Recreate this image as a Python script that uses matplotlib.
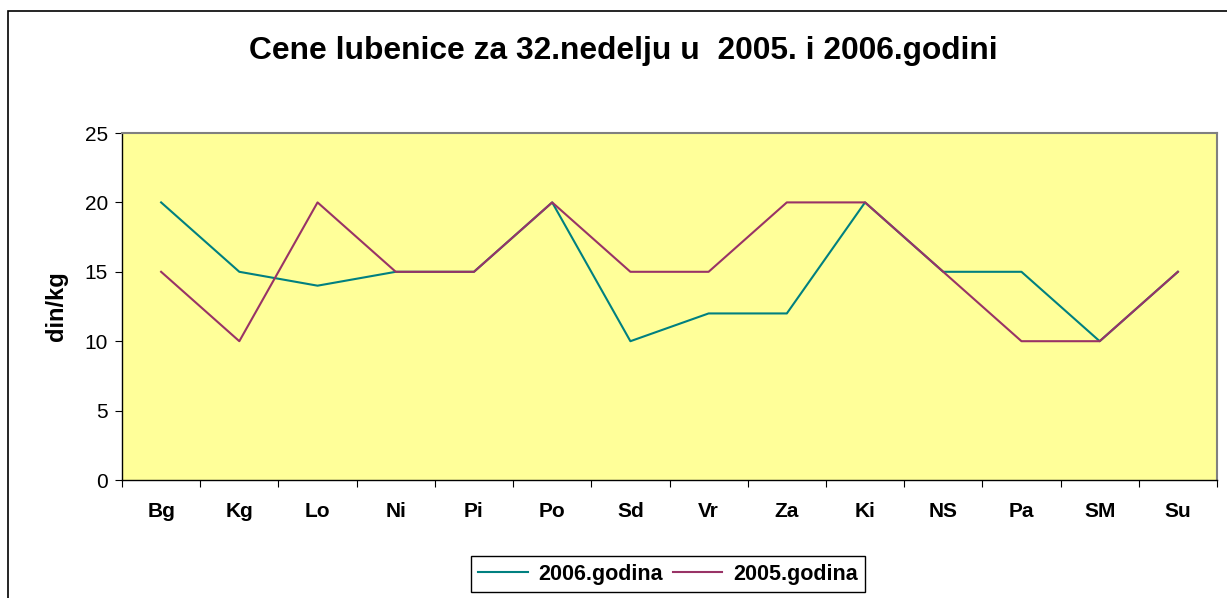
import matplotlib.pyplot as plt
from matplotlib.patches import Rectangle
import numpy as np

plt.rcParams['font.family'] = ['Liberation Sans', 'DejaVu Sans']

# data
cities = ['Bg', 'Kg', 'Lo', 'Ni', 'Pi', 'Po', 'Sd', 'Vr', 'Za', 'Ki', 'NS', 'Pa', 'SM', 'Su']
prices_2006 = [20, 15, 14, 15, 15, 20, 10, 12, 12, 20, 15, 15, 10, 15]
prices_2005 = [15, 10, 20, 15, 15, 20, 15, 15, 20, 20, 15, 10, 10, 15]

fig = plt.figure(figsize=(12.27, 5.98), dpi=100)
W, H = 1227, 598

# outer chart border
fig.patches.append(Rectangle((8 / W, -0.1), 1.2, 1 - 11 / H + 0.1, transform=fig.transFigure,
                             fill=False, edgecolor='black', linewidth=1.2, clip_on=False))

ax = fig.add_axes([122 / W, (H - 480) / H, (1217 - 122) / W, (480 - 133) / H])
ax.set_facecolor('#FFFF99')

x = np.arange(len(cities))
ax.plot(x, prices_2006, color='#008080', linewidth=1.5, label='2006.godina')
ax.plot(x, prices_2005, color='#993366', linewidth=1.5, label='2005.godina')

ax.set_xlim(-0.5, len(cities) - 0.5)
ax.set_ylim(0, 25)
ax.set_yticks([0, 5, 10, 15, 20, 25])
ax.set_xticks(np.arange(-0.5, len(cities), 1))
ax.set_xticklabels([])
ax.set_xticks(x, minor=True)
ax.set_xticklabels(cities, minor=True, fontsize=15, fontweight='bold')
ax.tick_params(axis='x', which='minor', length=0, pad=16)
ax.tick_params(axis='x', which='major', length=5, direction='out')
ax.tick_params(axis='y', length=5, direction='out', labelsize=15, pad=5)

for s in ['top', 'right']:
    ax.spines[s].set_color('#808080')
    ax.spines[s].set_linewidth(1.5)
for s in ['left', 'bottom']:
    ax.spines[s].set_color('black')
    ax.spines[s].set_linewidth(1.0)

ax.set_ylabel('din/kg', fontsize=17, fontweight='bold', labelpad=12)

fig.text(0.508, 1 - 51 / H, 'Cene lubenice za 32.nedelju u  2005. i 2006.godini',
         ha='center', va='center', fontsize=22.9, fontweight='bold')

leg = fig.legend(loc='upper center', bbox_to_anchor=(668 / W, 1 - 556 / H), ncol=2,
                 fancybox=False, edgecolor='black', framealpha=1,
                 prop={'size': 15.5, 'weight': 'bold'}, handlelength=2.3,
                 handletextpad=0.5, columnspacing=0.45, borderpad=0.35,
                 borderaxespad=0)
leg.get_frame().set_linewidth(1.0)

fig.savefig('out.png', dpi=100)
